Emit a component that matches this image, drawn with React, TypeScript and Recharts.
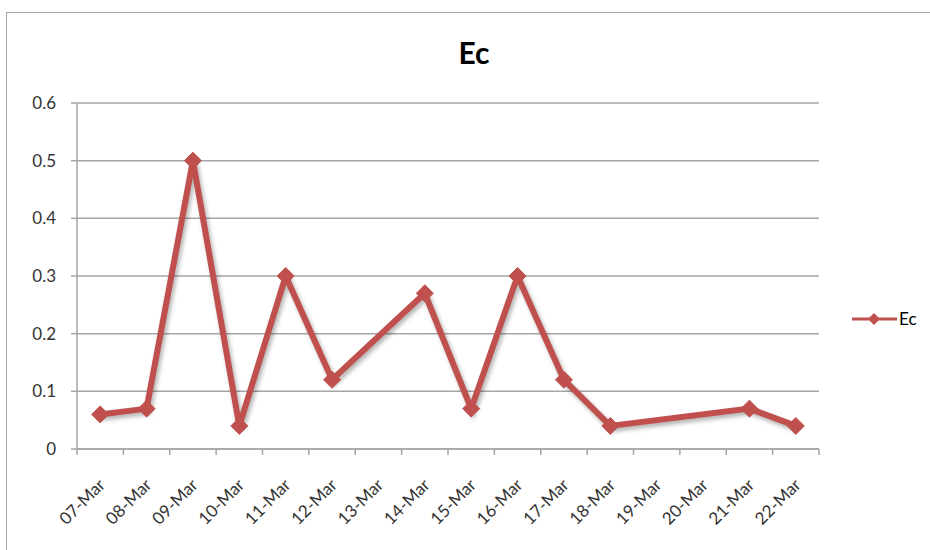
import React from "react";
import {
  LineChart,
  Line,
  XAxis,
  YAxis,
  CartesianGrid,
  Legend,
} from "recharts";

// dates on the category axis
const dates = [
  "07-Mar", "08-Mar", "09-Mar", "10-Mar", "11-Mar", "12-Mar", "13-Mar", "14-Mar",
  "15-Mar", "16-Mar", "17-Mar", "18-Mar", "19-Mar", "20-Mar", "21-Mar", "22-Mar",
];
// Ec readings (null = no reading that day)
const ecValues = [
  0.06, 0.07, 0.5, 0.04, 0.3, 0.12, null, 0.27,
  0.07, 0.3, 0.12, 0.04, null, null, 0.07, 0.04,
];
const yTicks = [0, 0.1, 0.2, 0.3, 0.4, 0.5, 0.6];

const data = dates.map((d, i) => ({ date: d, Ec: ecValues[i] }));

const RED = "#c0504d";
const GRID = "#a6a6a6";
const FONT = "Lato, 'Open Sans', sans-serif";

const PLOT_LEFT = 77;
const PLOT_RIGHT = 819;
const PLOT_TOP = 103;
const PLOT_BOTTOM = 449;
const STEP = (PLOT_RIGHT - PLOT_LEFT) / dates.length;
const TICK_SIZE = 6;
const TICK_MARGIN = 2;

const Diamond = (props: any) => {
  const { cx, cy, value } = props;
  if (value == null || cx == null || cy == null) return null;
  const r = 8.5;
  return (
    <polygon
      points={`${cx},${cy - r} ${cx + r},${cy} ${cx},${cy + r} ${cx - r},${cy}`}
      fill={RED}
      stroke={RED}
      strokeWidth={1}
    />
  );
};

// Excel puts tick marks between categories, labels rotated -45
const DateTick = (props: any) => {
  const { x, y, payload, index } = props;
  const axisY = y - TICK_SIZE - TICK_MARGIN;
  const left = x - STEP / 2;
  const tx = x + 6;
  const ty = axisY + 37;
  return (
    <g>
      <line x1={left} y1={axisY} x2={left} y2={axisY + TICK_SIZE} stroke={GRID} strokeWidth={1.5} />
      {index === dates.length - 1 && (
        <line x1={x + STEP / 2} y1={axisY} x2={x + STEP / 2} y2={axisY + TICK_SIZE} stroke={GRID} strokeWidth={1.5} />
      )}
      <text
        x={tx}
        y={ty}
        textAnchor="end"
        fill="#333"
        fontSize={17}
        fontFamily={FONT}
        transform={`rotate(-45 ${tx} ${ty})`}
      >
        {payload.value}
      </text>
    </g>
  );
};

const LegendContent = () => (
  <svg width={80} height={20}>
    <line x1={0} y1={10} x2={45} y2={10} stroke={RED} strokeWidth={3} />
    <polygon points="22,4 28,10 22,16 16,10" fill={RED} />
    <text x={47} y={15.5} fontSize={17} fontFamily={FONT} fill="#000">
      Ec
    </text>
  </svg>
);

export default function App() {
  return (
    <div
      style={{
        position: "fixed",
        top: 0,
        left: 0,
        width: 930,
        height: 550,
        overflow: "hidden",
        background: "#fff",
      }}
    >
      <style>{`.recharts-line { filter: drop-shadow(2px 3px 2px rgba(0,0,0,0.3)); }`}</style>
      <div
        style={{
          position: "absolute",
          left: 6,
          top: 12,
          width: 1000,
          height: 700,
          border: "1.5px solid #a6a6a6",
        }}
      />
      <div
        style={{
          position: "absolute",
          left: 0,
          width: 948,
          top: 34,
          textAlign: "center",
          fontFamily: FONT,
          fontWeight: 700,
          fontSize: 30,
          color: "#000",
        }}
      >
        Ec
      </div>
      <div style={{ position: "absolute", left: 0, top: 0 }}>
        <LineChart
          width={930}
          height={550}
          data={data}
          margin={{
            top: PLOT_TOP,
            right: 930 - PLOT_RIGHT,
            left: PLOT_LEFT - 60,
            bottom: 550 - PLOT_BOTTOM - 90,
          }}
        >
          <CartesianGrid horizontal vertical={false} stroke={GRID} strokeWidth={1.5} />
          <XAxis
            dataKey="date"
            interval={0}
            height={90}
            padding={{ left: STEP / 2, right: STEP / 2 }}
            axisLine={{ stroke: GRID, strokeWidth: 1.5 }}
            tickLine={false}
            tickSize={TICK_SIZE}
            tickMargin={TICK_MARGIN}
            tick={<DateTick />}
          />
          <YAxis
            width={60}
            domain={[0, 0.6]}
            ticks={yTicks}
            interval={0}
            axisLine={{ stroke: GRID, strokeWidth: 1.5 }}
            tickLine={{ stroke: GRID, strokeWidth: 1.5 }}
            tickSize={TICK_SIZE}
            tickMargin={15}
            tick={{ fill: "#333", fontSize: 17, fontFamily: FONT }}
          />
          <Legend
            layout="vertical"
            align="center"
            verticalAlign="middle"
            wrapperStyle={{ left: 852, top: 309, width: 80 }}
            content={<LegendContent />}
          />
          <Line
            type="linear"
            dataKey="Ec"
            name="Ec"
            stroke={RED}
            strokeWidth={6}
            strokeLinejoin="miter"
            connectNulls
            dot={<Diamond />}
            activeDot={false}
            isAnimationActive={false}
          />
        </LineChart>
      </div>
    </div>
  );
}
